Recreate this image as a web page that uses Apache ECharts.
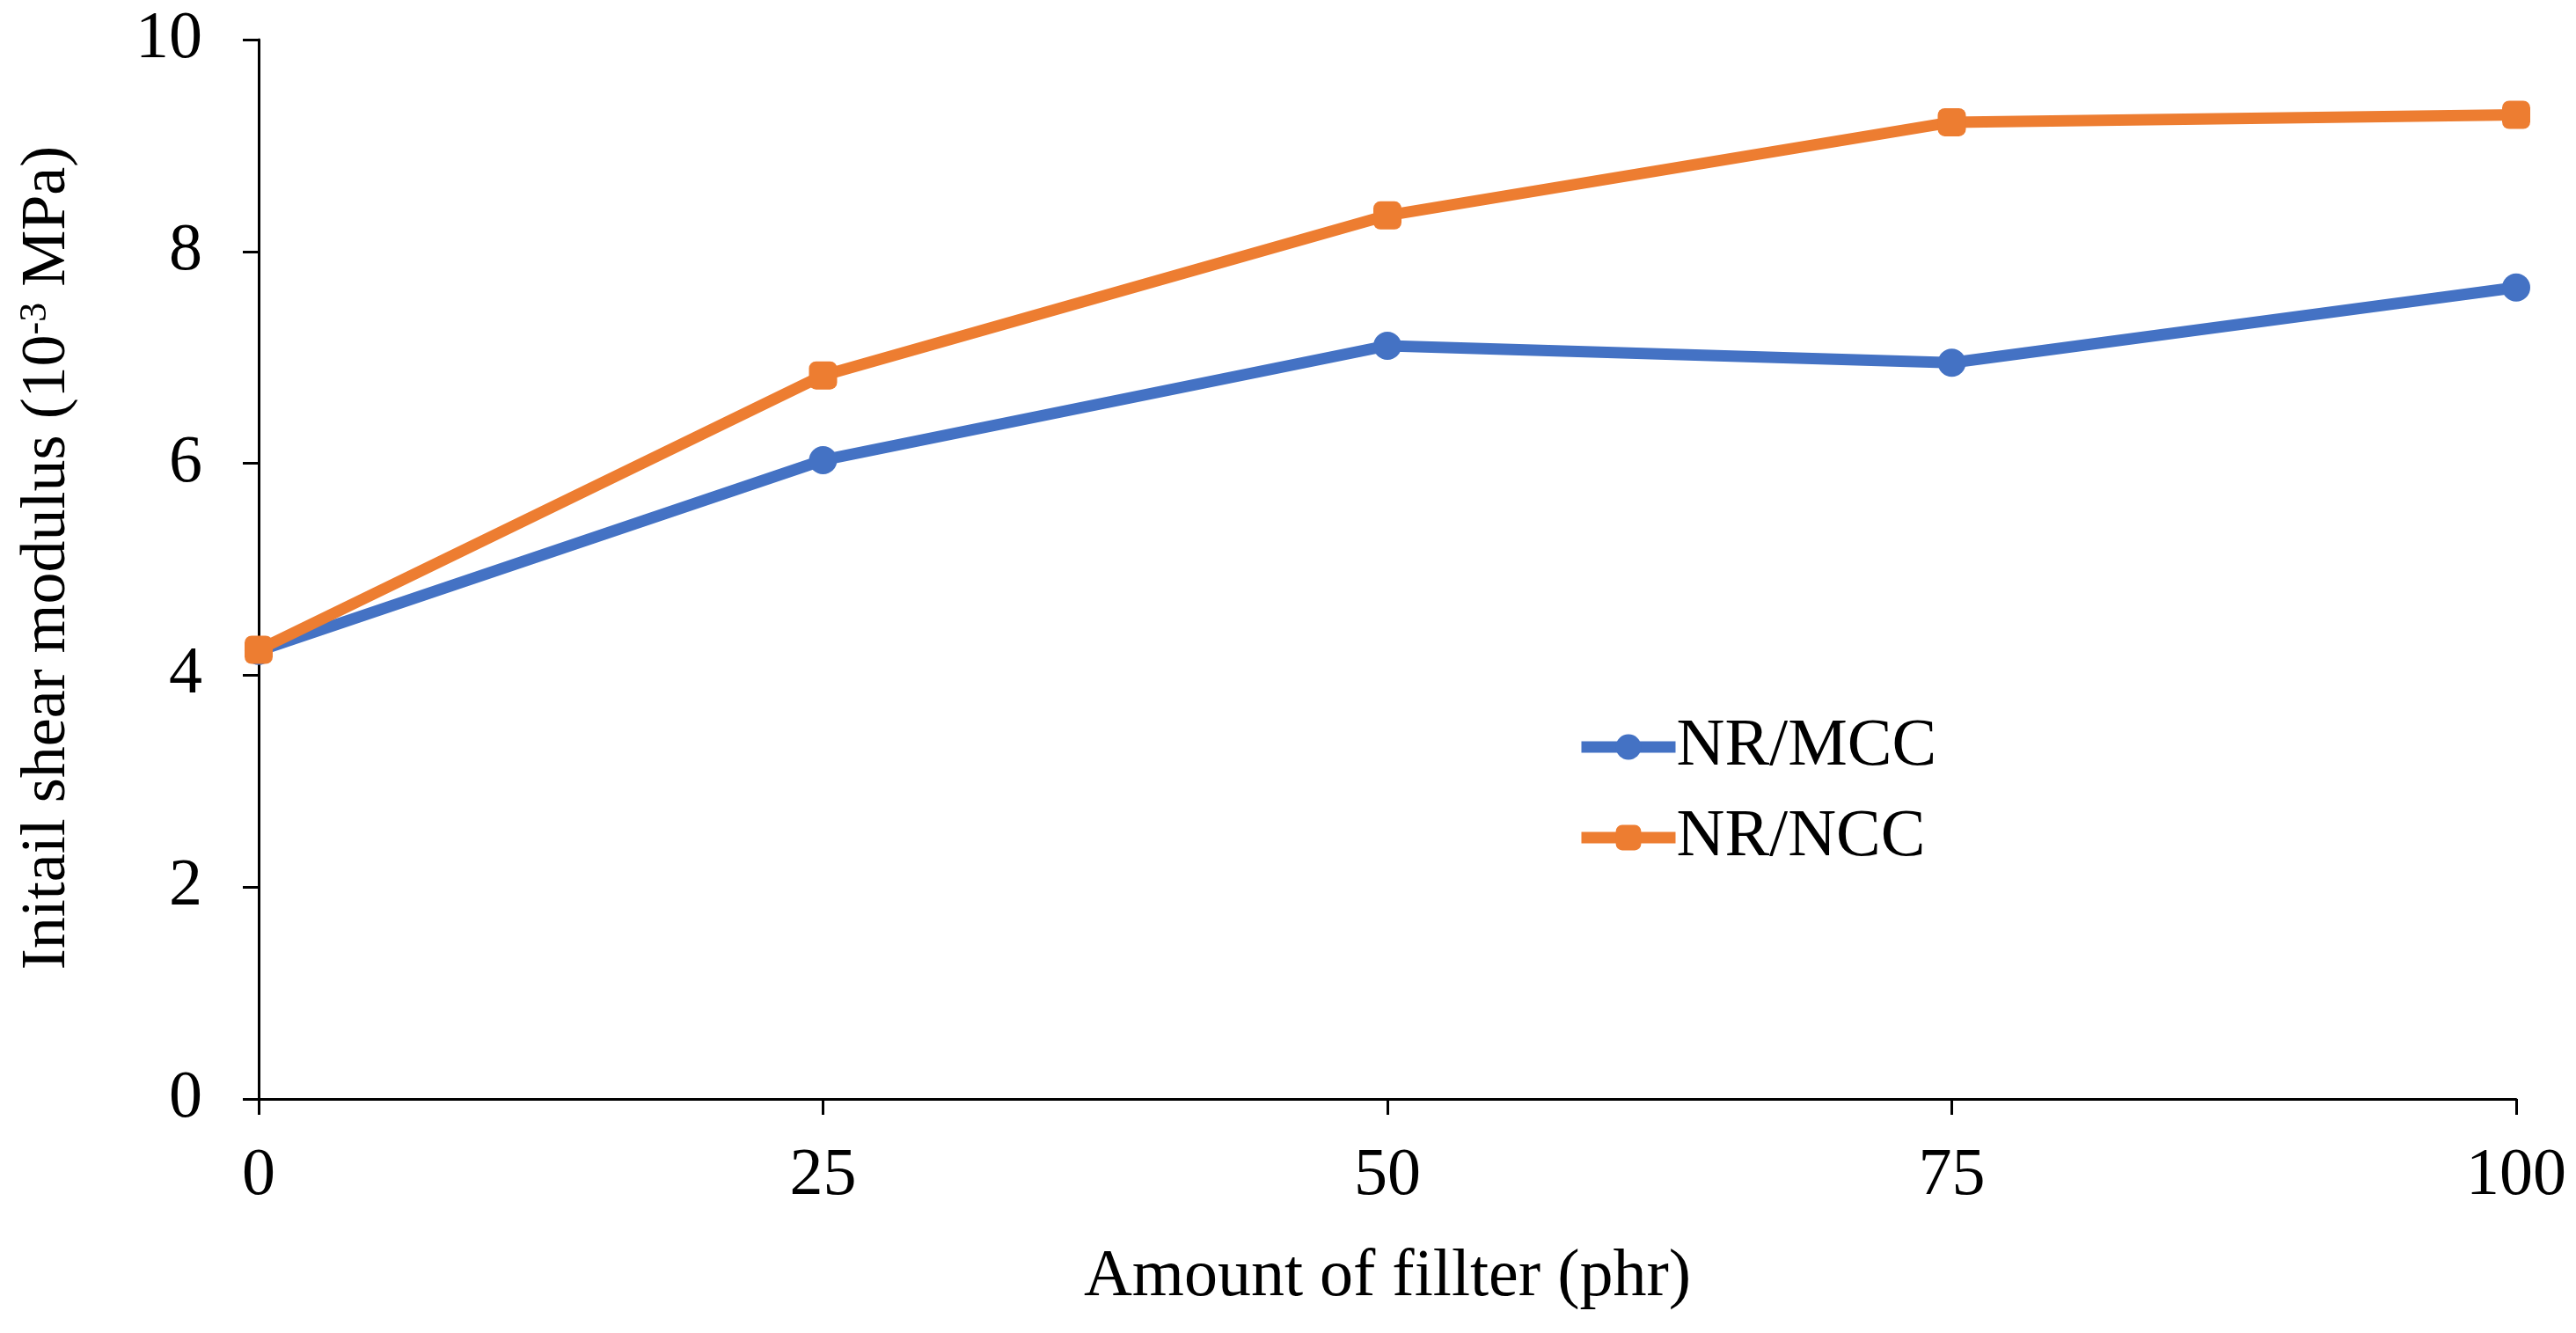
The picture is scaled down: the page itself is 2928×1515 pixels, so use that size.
<!DOCTYPE html>
<html>
<head>
<meta charset="utf-8">
<script src="https://cdn.jsdelivr.net/npm/echarts@6/dist/echarts.min.js"></script>
<style>
html,body{margin:0;padding:0;background:#fff;}
#chart{width:2928px;height:1515px;}
</style>
</head>
<body>
<div id="chart"></div>
<script>
var fillerAmounts = [0, 25, 50, 75, 100];
var nrMcc = [4.23, 6.03, 7.11, 6.95, 7.66];
var nrNcc = [4.24, 6.83, 8.34, 9.22, 9.29];
var seriesNames = ['NR/MCC', 'NR/NCC'];
var xTicks = [0, 25, 50, 75, 100];
var yTicks = [0, 2, 4, 6, 8, 10];

function pairs(xs, ys) { return xs.map(function (x, i) { return [x, ys[i]]; }); }

var font = 'Liberation Serif, Times New Roman, serif';
var chart = echarts.init(document.getElementById('chart'));
chart.setOption({
  backgroundColor: '#ffffff',
  animation: false,
  textStyle: { fontFamily: font },
  grid: { left: 294, right: 68, top: 45, bottom: 266, containLabel: false },
  legend: {
    orient: 'vertical',
    left: 1786,
    top: 806,
    itemWidth: 107,
    itemHeight: 36,
    itemGap: 27,
    lineStyle: { width: 13 },
    textStyle: { fontFamily: font, fontSize: 76, color: '#000', lineHeight: 76, padding: [0, 0, 0, -4] },
    data: seriesNames
  },
  xAxis: {
    type: 'value',
    min: xTicks[0],
    max: xTicks[xTicks.length - 1],
    interval: 25,
    name: 'Amount of fillter (phr)',
    nameLocation: 'middle',
    nameGap: 165,
    nameTextStyle: { fontFamily: font, fontSize: 76, color: '#000' },
    axisLine: { lineStyle: { color: '#000', width: 3 } },
    axisTick: { show: true, length: 18, lineStyle: { color: '#000', width: 3 } },
    axisLabel: { fontFamily: font, fontSize: 76, color: '#000', margin: 50 },
    splitLine: { show: false }
  },
  yAxis: {
    type: 'value',
    min: yTicks[0],
    max: yTicks[yTicks.length - 1],
    interval: 2,
    name: 'Initail shear modulus (10{sup|-3} MPa)',
    nameLocation: 'middle',
    nameGap: 204,
    nameTextStyle: {
      fontFamily: font, fontSize: 72, color: '#000',
      padding: [0, 0, 0, 26],
      rich: { sup: { fontFamily: font, fontSize: 44, color: '#000', verticalAlign: 'top', padding: [0, 0, 28, 0] } }
    },
    axisLine: { show: true, lineStyle: { color: '#000', width: 3 } },
    axisTick: { show: true, length: 18, lineStyle: { color: '#000', width: 3 } },
    axisLabel: { fontFamily: font, fontSize: 76, color: '#000', margin: 64 },
    splitLine: { show: false }
  },
  series: [
    {
      name: seriesNames[0],
      type: 'line',
      data: pairs(fillerAmounts, nrMcc),
      symbol: 'circle',
      symbolSize: 32,
      itemStyle: { color: '#4472C4' },
      lineStyle: { color: '#4472C4', width: 13 },
      z: 2
    },
    {
      name: seriesNames[1],
      type: 'line',
      data: pairs(fillerAmounts, nrNcc),
      symbol: 'roundRect',
      symbolSize: 32,
      itemStyle: { color: '#ED7D31' },
      lineStyle: { color: '#ED7D31', width: 13 },
      z: 3
    }
  ]
});
</script>
</body>
</html>
